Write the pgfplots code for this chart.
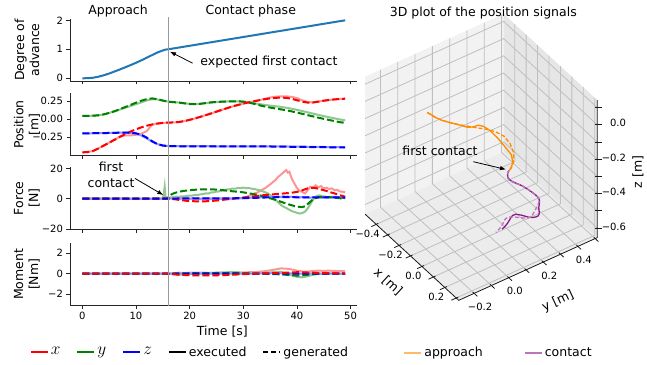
\documentclass[border=0pt]{standalone}
\usepackage{fontspec}
\setmainfont{DejaVu Sans}
\usepackage{pgfplots}
\pgfplotsset{compat=1.18}
\usepackage{pgfplotstable}
\usetikzlibrary{arrows.meta}

\definecolor{tabblue}{HTML}{1F77B4}
\definecolor{mgreen}{HTML}{008000}
\definecolor{mred}{HTML}{FF0000}
\definecolor{mblue}{HTML}{0000FF}
\definecolor{lred}{HTML}{FF9494}
\definecolor{lgreen}{HTML}{8FC78F}
\definecolor{lblue}{HTML}{9494FF}
\definecolor{orangeC}{HTML}{FF8C00}
\definecolor{purpleC}{HTML}{8B1A8B}
\definecolor{paneL}{HTML}{F2F2F2}
\definecolor{paneR}{HTML}{E6E6E6}
\definecolor{paneF}{HTML}{ECECEC}

\tikzset{
  gridc/.style={black!25, line width=0.8pt},
  axc/.style={black!90, line width=0.8pt},
  tl/.style={font=\fontsize{10}{12}\selectfont, inner sep=0pt},
}
\newcommand{\mathent}[1]{\fontsize{16}{16}\selectfont$#1$}

\pgfplotstableread{
t adv
0 0
1 0.004
2 0.02
3 0.055
4 0.105
5 0.165
6 0.235
7 0.305
8 0.38
9 0.455
10 0.535
11 0.62
12 0.71
13 0.80
14 0.89
15 0.96
15.5 0.99
16 1.0
20 1.121
25 1.273
30 1.424
35 1.576
40 1.727
45 1.879
48 1.97
49 2.0
}\advtab

\pgfplotstableread{
t xe xg ye yg ze zg
0 -0.46 -0.46 0.046 0.046 -0.195 -0.195
1 -0.455 -0.455 0.047 0.047 -0.195 -0.195
2 -0.44 -0.44 0.05 0.05 -0.194 -0.194
3 -0.405 -0.405 0.055 0.055 -0.193 -0.193
4 -0.365 -0.365 0.068 0.068 -0.192 -0.192
5 -0.325 -0.325 0.088 0.088 -0.19 -0.19
6 -0.285 -0.285 0.11 0.112 -0.188 -0.188
7 -0.24 -0.245 0.135 0.14 -0.187 -0.186
8 -0.225 -0.205 0.16 0.17 -0.186 -0.185
9 -0.225 -0.17 0.185 0.20 -0.188 -0.186
10 -0.215 -0.14 0.21 0.23 -0.20 -0.195
11 -0.20 -0.112 0.235 0.258 -0.225 -0.215
12 -0.165 -0.09 0.262 0.28 -0.265 -0.255
13 -0.075 -0.072 0.278 0.29 -0.31 -0.305
14 -0.058 -0.06 0.275 0.28 -0.345 -0.345
15 -0.05 -0.05 0.258 0.26 -0.364 -0.365
16 -0.046 -0.046 0.245 0.245 -0.371 -0.372
17 -0.044 -0.044 0.238 0.238 -0.373 -0.374
18 -0.038 -0.038 0.232 0.232 -0.374 -0.375
19 -0.025 -0.025 0.223 0.222 -0.374 -0.375
20 -0.008 -0.008 0.214 0.212 -0.374 -0.375
21 0.012 0.012 0.212 0.21 -0.374 -0.375
22 0.034 0.034 0.216 0.215 -0.374 -0.375
23 0.057 0.057 0.225 0.225 -0.374 -0.375
24 0.081 0.081 0.234 0.235 -0.374 -0.375
25 0.106 0.106 0.24 0.24 -0.375 -0.375
26 0.131 0.131 0.244 0.245 -0.375 -0.375
27 0.155 0.155 0.247 0.248 -0.375 -0.376
28 0.178 0.178 0.249 0.25 -0.375 -0.376
29 0.199 0.199 0.249 0.25 -0.375 -0.376
30 0.218 0.218 0.245 0.245 -0.376 -0.376
31 0.235 0.235 0.236 0.232 -0.376 -0.377
32 0.25 0.25 0.224 0.215 -0.376 -0.377
33 0.266 0.265 0.211 0.195 -0.377 -0.378
34 0.284 0.279 0.2 0.178 -0.377 -0.378
35 0.302 0.29 0.19 0.163 -0.377 -0.378
36 0.313 0.298 0.181 0.15 -0.377 -0.379
37 0.318 0.301 0.172 0.138 -0.378 -0.38
38 0.318 0.298 0.161 0.125 -0.378 -0.381
39 0.312 0.285 0.147 0.11 -0.379 -0.382
40 0.295 0.265 0.131 0.093 -0.38 -0.383
41 0.262 0.245 0.114 0.076 -0.381 -0.384
42 0.238 0.232 0.096 0.058 -0.382 -0.385
43 0.236 0.233 0.079 0.04 -0.383 -0.386
44 0.246 0.245 0.061 0.022 -0.384 -0.387
45 0.258 0.258 0.044 0.006 -0.385 -0.388
46 0.268 0.268 0.028 -0.01 -0.386 -0.389
47 0.276 0.276 0.013 -0.025 -0.387 -0.39
48 0.282 0.282 -0.002 -0.04 -0.388 -0.391
49 0.286 0.286 -0.015 -0.05 -0.389 -0.392
}\postab

\pgfplotstableread{
t fxe fxg fye fyg fze fzg
0 0 0 0 0 0 0
5 0.1 0 -0.1 0 0.1 0
10 -0.1 0 0.1 0 -0.1 0
15 0 0 0 0 0 0
15.2 0 0 3.5 0 0.1 0
15.35 0.2 0 7.8 0 0.3 0
15.5 0.1 0 1.2 0 0 0
16 0 0 0.6 0.5 0.1 0
16.5 0.2 -0.2 0.9 2.6 0.3 0.1
17 -0.1 -0.3 1.0 3.5 0 0.1
17.5 0.1 -0.5 1.4 4.1 0.2 0.1
18 -0.2 -0.8 1.2 4.5 0 0.2
18.5 0.1 -1.0 1.6 4.9 0.3 0.2
19 -0.2 -1.2 1.5 5.2 0.1 0.2
19.5 0 -1.4 1.9 5.4 0.2 0.2
20 -0.3 -1.5 2.0 5.6 0 0.2
20.5 0 -1.6 2.1 5.8 0.3 0.2
21 -0.2 -1.7 2.5 5.9 0.1 0.2
21.5 -0.4 -1.75 2.4 6.0 0.2 0.2
22 -0.2 -1.8 2.9 6.1 0 0.2
22.5 -0.5 -1.8 3.0 6.15 0.2 0.2
23 -0.3 -1.7 3.5 6.2 0.1 0.2
23.5 -0.5 -1.6 3.4 6.2 0.3 0.2
24 -0.2 -1.5 4.1 6.2 0.1 0.2
24.5 -0.4 -1.35 4.2 6.1 0.2 0.2
25 -0.1 -1.2 4.7 6.0 0 0.2
25.5 -0.3 -1.0 4.8 5.85 0.2 0.2
26 0 -0.8 5.4 5.7 0.1 0.2
26.5 -0.2 -0.6 5.5 5.5 0.3 0.2
27 0.1 -0.4 6.1 5.3 0.1 0.2
27.5 -0.1 -0.2 6.2 5.1 0.2 0.2
28 0.2 0 6.7 4.9 0 0.2
28.5 0 0.2 6.6 4.75 0.3 0.3
29 0.3 0.4 7.1 4.6 0.2 0.3
29.5 0.2 0.6 7.0 4.4 0.4 0.3
30 0.5 0.8 7.3 4.2 0.3 0.4
30.5 0.9 1.0 7.0 3.9 0.6 0.4
31 1.8 1.2 7.1 3.6 0.4 0.5
31.5 2.5 1.4 6.6 3.3 0.8 0.5
32 3.4 1.6 6.5 3.0 0.6 0.6
32.5 3.9 1.8 6.0 2.6 1.0 0.6
33 4.8 2.0 5.6 2.2 0.7 0.7
33.5 5.9 2.2 5.0 1.8 1.2 0.7
34 6.8 2.4 4.4 1.3 0.8 0.8
34.5 8.1 2.55 3.6 0.8 1.3 0.8
35 9.4 2.7 2.4 0.3 0.9 0.9
35.5 10.9 2.85 0.9 -0.25 1.4 0.9
36 12.3 3.0 -0.6 -0.8 1.0 1.0
36.5 14.4 3.15 -2.4 -1.4 1.5 1.0
37 15.8 3.3 -4.0 -2.0 1.1 1.0
37.5 17.4 3.45 -5.3 -2.6 1.6 1.0
38 18.9 3.6 -6.1 -3.2 1.2 1.0
38.3 17.2 3.7 -6.8 -3.5 1.5 1.0
38.6 17.8 3.8 -7.3 -3.9 1.0 1.0
39 13.5 3.9 -8.1 -4.3 1.4 1.0
39.5 10.2 4.2 -8.7 -4.8 0.9 1.0
40 7.1 4.5 -9.3 -5.2 1.3 0.9
40.5 5.2 5.0 -9.8 -5.4 0.8 0.9
41 4.4 5.5 -9.4 -5.5 1.2 0.9
41.5 3.5 6.2 -8.6 -5.0 0.7 0.9
42 5.6 6.8 -6.4 -3.5 1.1 0.9
42.5 7.9 7.0 -3.6 -2.0 0.6 0.9
43 7.4 7.2 -0.6 -0.5 1.0 0.9
43.5 8.8 7.0 1.4 0.4 0.5 0.9
44 7.5 6.6 2.2 1.0 0.9 0.9
44.5 8.3 6.1 1.9 1.2 0.6 0.9
45 6.8 5.6 1.4 1.2 1.1 0.9
45.5 7.3 5.1 1.1 1.1 0.7 0.9
46 6.3 4.6 0.9 1.0 1.2 0.9
46.5 6.8 4.0 1.3 0.8 0.8 0.8
47 5.6 3.5 1.2 0.6 1.3 0.8
47.5 5.9 2.9 0.7 0.5 0.9 0.8
48 4.8 2.3 0.9 0.3 1.2 0.8
48.5 4.6 1.8 0.5 0.25 0.8 0.7
49 4.2 1.3 0.6 0.2 1.0 0.7
}\forcetab

\pgfplotstableread{
t mxe mxg mye myg mze mzg
0 0 0 0 0 0 0
16 0 0 0 0 0 0
17 0.05 -0.05 -0.05 0.02 0 0
18 0.1 -0.1 -0.1 0.03 0.02 0
19 0.08 -0.12 -0.08 0.04 0 0
20 0.1 -0.15 -0.05 0.05 0.02 0
21 0.12 -0.16 0 0.05 0 0
22 0.1 -0.17 0.03 0.05 0.02 0
23 0.1 -0.17 0.05 0.06 0 0
24 0.08 -0.16 0.08 0.06 0.02 0
25 0.1 -0.15 0.1 0.07 0 0
26 0.1 -0.14 0.12 0.07 0.02 0
27 0.08 -0.12 0.15 0.07 0 0
28 0.1 -0.1 0.18 0.06 0.02 0
29 0.1 -0.07 0.15 0.05 0 0
30 0.12 -0.04 0.08 0.04 0.02 0
31 0.15 -0.02 0.05 0.03 0 0
32 0.15 0 0.05 0.02 0.02 0
33 0.2 0.02 0.08 0.01 0.03 0
34 0.25 0.03 0.1 0 0.03 0.01
35 0.32 0.05 0.12 -0.02 0.05 0.01
36 0.42 0.06 0.18 -0.04 0.05 0.02
37 0.52 0.08 0.2 -0.06 0.05 0.02
38 0.5 0.1 0.05 -0.1 0.04 0.02
39 0.42 0.12 -0.15 -0.15 0.03 0.02
40 0.3 0.15 -0.3 -0.18 0.02 0.02
41 0.22 0.14 -0.35 -0.15 0.01 0.02
42 0.2 0.12 -0.25 -0.1 0.02 0.01
43 0.28 0.1 -0.08 -0.05 0.03 0.01
44 0.3 0.08 0 -0.02 0.02 0.01
45 0.28 0.06 0.02 0 0.02 0.01
46 0.3 0.05 0.03 0 0.02 0.01
47 0.27 0.04 0.02 0 0.02 0
48 0.26 0.03 0.02 0 0.02 0
49 0.25 0.02 0.02 0 0.02 0
}\momtab

\pgfplotsset{
  panel/.style={
    scale only axis, width=287pt, xmin=-2.3, xmax=51.2,
    axis x line*=bottom, axis y line*=left,
    axis line style={-, line width=0.8pt, black!85},
    tick align=outside, major tick length=3.5pt,
    tick style={line width=0.8pt, black!85},
    xtick={0,10,20,30,40,50},
    tick label style={font=\fontsize{10}{12}\selectfont},
    label style={font=\fontsize{12.5}{15}\selectfont},
    ylabel style={at={(axis description cs:-0.15,0.5)}, anchor=center, align=center},
    clip=false,
  },
  exe/.style={line width=2pt},
  gen/.style={line width=2pt, dash pattern=on 7pt off 3pt},
}

\begin{document}
\begin{tikzpicture}[x=1pt,y=1pt,font=\fontsize{12.5}{15}\selectfont]
\path[use as bounding box] (0,0) rectangle (647,364);

% ---------- Panel 1: degree of advance
\begin{axis}[panel, at={(70pt,283pt)}, anchor=south west, height=62pt,
  ymin=-0.093, ymax=2.045, ytick={0,1,2}, yticklabels={0,1,2}, xticklabels={},
  ylabel={Degree of\\advance}]
\addplot[tabblue, line width=2pt] table[x=t,y=adv]{\advtab};
\coordinate (vtop) at (axis cs:16,2.1);
\node[anchor=base] at (axis cs:6.65,2.2) {Approach};
\node[anchor=base] at (axis cs:31.4,2.2) {Contact phase};
\node[anchor=base west] at (axis cs:21.36,0.44) {expected first contact};
\draw[-{Latex[length=6pt,width=4.5pt]}, line width=0.8pt] (axis cs:20.56,0.52) -- (axis cs:16.33,0.92);
\end{axis}

% ---------- Panel 2: position
\begin{axis}[panel, at={(70pt,208.3pt)}, anchor=south west, height=62.4pt,
  ymin=-0.506, ymax=0.361, ytick={-0.25,0,0.25}, yticklabels={−0.25,0.00,0.25}, xticklabels={},
  ylabel={Position\\{[m]}}]
\addplot[lred, exe] table[x=t,y=xe]{\postab};
\addplot[lgreen, exe] table[x=t,y=ye]{\postab};
\addplot[lblue, exe] table[x=t,y=ze]{\postab};
\addplot[mgreen, gen] table[x=t,y=yg]{\postab};
\addplot[mred, gen] table[x=t,y=xg]{\postab};
\addplot[mblue, gen] table[x=t,y=zg]{\postab};
\end{axis}

% ---------- Panel 3: force
\begin{axis}[panel, at={(70pt,134.5pt)}, anchor=south west, height=62.5pt,
  ymin=-20.3, ymax=20.9, ytick={-20,0,20}, yticklabels={−20,0,20}, xticklabels={},
  ylabel={Force\\{[N]}}]
\addplot[lred, exe] table[x=t,y=fxe]{\forcetab};
\addplot[lgreen, exe] table[x=t,y=fye]{\forcetab};
\addplot[lblue, exe] table[x=t,y=fze]{\forcetab};
\addplot[mgreen, gen] table[x=t,y=fyg]{\forcetab};
\addplot[mred, gen] table[x=t,y=fxg]{\forcetab};
\addplot[mblue, gen] table[x=t,y=fzg]{\forcetab};
\node[align=center, font=\fontsize{12.5}{16}\selectfont] at (axis cs:5.35,15.8) {first\\contact};
\draw[-{Latex[length=6pt,width=4.5pt]}, line width=0.8pt] (axis cs:9.8,13.4) -- (axis cs:15.1,2.4);
\end{axis}

% ---------- Panel 4: moment
\begin{axis}[panel, at={(70pt,58.5pt)}, anchor=south west, height=62.5pt,
  ymin=-3.1, ymax=3.0, ytick={-2,0,2}, yticklabels={−2,0,2},
  xticklabels={0,10,20,30,40,50},
  ylabel={Moment\\{[Nm]}}, xlabel={Time [s]},
  xlabel style={at={(axis description cs:0.531,-0.42)}, anchor=center},
  legend style={draw=none, fill=none, at={(axis description cs:0.418,-0.744)}, anchor=center,
    legend columns=-1, font=\fontsize{12.5}{15}\selectfont,
    /tikz/every even column/.append style={column sep=14pt}},
  legend image code/.code={\draw[#1] (0pt,0pt) -- (17pt,0pt);}]
\addplot[lred, exe, forget plot] table[x=t,y=mxe]{\momtab};
\addplot[lgreen, exe, forget plot] table[x=t,y=mye]{\momtab};
\addplot[lblue, exe, forget plot] table[x=t,y=mze]{\momtab};
\addplot[mgreen, gen, forget plot] table[x=t,y=myg]{\momtab};
\addplot[mblue, gen, forget plot] table[x=t,y=mzg]{\momtab};
\addplot[mred, gen, forget plot] table[x=t,y=mxg]{\momtab};
\coordinate (vbot) at (axis cs:16,-3.1);
\addlegendimage{mred, line width=2pt}
\addlegendentry{\mathent{x}}
\addlegendimage{mgreen, line width=2pt}
\addlegendentry{\mathent{y}}
\addlegendimage{mblue, line width=2pt}
\addlegendentry{\mathent{z}}
\addlegendimage{black, line width=2pt}
\addlegendentry{executed}
\addlegendimage{black, line width=2pt, dash pattern=on 5pt off 3pt}
\addlegendentry{generated}
\end{axis}

\draw[black!40, line width=1.3pt] (vtop) -- (vbot);

% ---------- 3D plot
\begin{axis}[at={(471.9pt,233pt)}, anchor=origin, hide axis, clip=false,
  x={(114.3pt,-105.2pt)}, y={(172.9pt,78.3pt)}, z={(0pt,172pt)},
  xmin=-0.497, xmax=0.322, ymin=-0.289, ymax=0.512, zmin=-0.656, zmax=0.144]
\fill[paneF] (axis cs:-0.497,-0.289,-0.656) -- (axis cs:0.322,-0.289,-0.656) -- (axis cs:0.322,0.512,-0.656) -- (axis cs:-0.497,0.512,-0.656) -- cycle;
\fill[paneL] (axis cs:-0.497,-0.289,-0.656) -- (axis cs:-0.497,0.512,-0.656) -- (axis cs:-0.497,0.512,0.144) -- (axis cs:-0.497,-0.289,0.144) -- cycle;
\fill[paneR] (axis cs:-0.497,0.512,-0.656) -- (axis cs:0.322,0.512,-0.656) -- (axis cs:0.322,0.512,0.144) -- (axis cs:-0.497,0.512,0.144) -- cycle;
\pgfplotsinvokeforeach{-0.4,-0.3,-0.2,-0.1,0,0.1,0.2,0.3}{
  \draw[gridc] (axis cs:#1,-0.289,-0.656) -- (axis cs:#1,0.512,-0.656) -- (axis cs:#1,0.512,0.144);
  \draw[axc] (axis cs:#1,-0.277,-0.656) -- (axis cs:#1,-0.317,-0.656);
}
\pgfplotsinvokeforeach{-0.2,-0.1,0,0.1,0.2,0.3,0.4,0.5}{
  \draw[gridc] (axis cs:0.322,#1,-0.656) -- (axis cs:-0.497,#1,-0.656) -- (axis cs:-0.497,#1,0.144);
  \draw[axc] (axis cs:0.31,#1,-0.656) -- (axis cs:0.35,#1,-0.656);
}
\pgfplotsinvokeforeach{-0.6,-0.5,-0.4,-0.3,-0.2,-0.1,0,0.1}{
  \draw[gridc] (axis cs:-0.497,-0.289,#1) -- (axis cs:-0.497,0.512,#1) -- (axis cs:0.322,0.512,#1);
  \draw[axc] ([xshift=-2pt]axis cs:0.322,0.512,#1) -- ([xshift=5pt]axis cs:0.322,0.512,#1);
}
\draw[axc] (axis cs:-0.497,-0.289,-0.656) -- (axis cs:0.322,-0.289,-0.656) -- (axis cs:0.322,0.512,-0.656) -- (axis cs:0.322,0.512,0.144);
% tick labels
\node[tl] at ([xshift=-8.5pt,yshift=-9pt]axis cs:-0.4,-0.289,-0.656) {−0.4};
\node[tl] at ([xshift=-8.5pt,yshift=-9pt]axis cs:-0.2,-0.289,-0.656) {−0.2};
\node[tl] at ([xshift=-8.5pt,yshift=-9pt]axis cs:0,-0.289,-0.656) {0.0};
\node[tl] at ([xshift=-8.5pt,yshift=-9pt]axis cs:0.2,-0.289,-0.656) {0.2};
\node[tl] at ([xshift=6pt,yshift=-13.5pt]axis cs:0.322,-0.2,-0.656) {−0.2};
\node[tl] at ([xshift=6pt,yshift=-13.5pt]axis cs:0.322,0,-0.656) {0.0};
\node[tl] at ([xshift=6pt,yshift=-13.5pt]axis cs:0.322,0.2,-0.656) {0.2};
\node[tl] at ([xshift=6pt,yshift=-13.5pt]axis cs:0.322,0.4,-0.656) {0.4};
\node[tl,anchor=east] at ([xshift=29pt,yshift=1.5pt]axis cs:0.322,0.512,0) {0.0};
\node[tl,anchor=east] at ([xshift=29pt,yshift=1.5pt]axis cs:0.322,0.512,-0.2) {−0.2};
\node[tl,anchor=east] at ([xshift=29pt,yshift=1.5pt]axis cs:0.322,0.512,-0.4) {−0.4};
\node[tl,anchor=east] at ([xshift=29pt,yshift=1.5pt]axis cs:0.322,0.512,-0.6) {−0.6};
% trajectories
\addplot3[orangeC, line width=1.3pt, dash pattern=on 4pt off 2pt, skip coords between index={17}{100}] table[x=xg,y=yg,z=zg]{\postab};
\addplot3[orangeC, line width=1.3pt, skip coords between index={17}{100}] table[x=xe,y=ye,z=ze]{\postab};
\addplot3[purpleC, line width=1.3pt, skip coords between index={0}{16}] table[x=xe,y=ye,z=ze]{\postab};
\addplot3[purpleC!60!white, line width=1.3pt, dash pattern=on 4pt off 2pt, skip coords between index={0}{16}] table[x=xg,y=yg,z=zg]{\postab};
\coordinate (fc3) at (axis cs:-0.046,0.245,-0.372);
\end{axis}

\draw[-{Latex[length=6pt,width=4.5pt]}, line width=0.8pt] (473.3,202.3) -- ([xshift=-3pt,yshift=1.5pt]fc3);
\node at (483.3,350.7) {3D plot of the position signals};
\node[anchor=base] at (440,208.5) {first contact};
\node[rotate=-42.6, inner sep=0pt] at (388,82) {x [m]};
\node[rotate=25, inner sep=0pt] at (558,63) {y [m]};
\node[rotate=90, inner sep=1pt] at (638,192) {z [m]};

% second legend
\begin{axis}[at={(498.5pt,11.3pt)}, anchor=center, hide axis, scale only axis,
  width=10pt, height=10pt, xmin=0, xmax=1, ymin=0, ymax=1,
  legend style={draw=none, fill=none, at={(0.5,0.5)}, anchor=center,
    legend columns=-1, font=\fontsize{12.5}{15}\selectfont,
    /tikz/every even column/.append style={column sep=39pt}},
  legend image code/.code={\draw[#1] (0pt,0pt) -- (17pt,0pt);}]
\addlegendimage{orangeC!60!white, line width=2pt}
\addlegendentry{approach}
\addlegendimage{purpleC!60!white, line width=2pt}
\addlegendentry{contact}
\end{axis}
\end{tikzpicture}
\end{document}
